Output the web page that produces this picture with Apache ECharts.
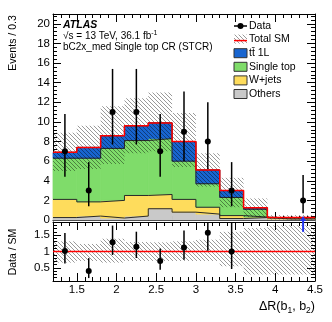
<!DOCTYPE html>
<html>
<head>
<meta charset="utf-8">
<script src="https://cdn.jsdelivr.net/npm/echarts@6/dist/echarts.min.js"></script>
<style>
  html, body { margin: 0; padding: 0; background: #fff; }
  #chart { width: 332px; height: 322px; }
</style>
</head>
<body>
<div id="chart"></div>
<script>
// bins of dR(b1,b2), width 0.3
const binEdges = [1.2, 1.5, 1.8, 2.1, 2.4, 2.7, 3.0, 3.3, 3.6, 3.9, 4.2, 4.5];
// stacked backgrounds, bottom to top
const others    = [0.25, 0.4, 0.2, 0.4, 1.15, 0.8, 0.6, 0.15, 0.25, 0.1, 0.1];
const wjets     = [1.85, 1.45, 1.8, 2.1, 1.45, 1.3, 0.7, 0.3, 0.05, 0.1, 0.1];
const singleTop = [4.2, 4.45, 5.3, 5.6, 5.7, 3.9, 2.4, 1.85, 0.8, 0.03, 0.05];
const ttbar1L   = [0.6, 1.1, 1.3, 1.5, 1.6, 2.0, 1.4, 0.7, 0.15, 0.02, 0.0];
// data and its error bar ends
const dataCounts = [7, 3, 11, 11, 7, 9, 8, 3, 0, 0, 2];
const dataUp     = [10.8, 5.9, 15.4, 15.4, 10.8, 13.1, 12.0, 5.9, 0, 0, 4.6];
const dataDown   = [4.4, 1.4, 7.7, 7.7, 4.4, 6.0, 5.2, 1.4, 0, 0, 0.7];
// total SM uncertainty band
const bandUp   = [8.9, 9.6, 11.6, 12.4, 13.0, 10.9, 6.8, 4.3, 2.2, 0.5, 0.5];
const bandDown = [5.0, 5.2, 5.7, 6.8, 7.0, 5.4, 3.4, 1.3, 0.3, 0.05, 0.05];
const ratioBandUp   = [1.31, 1.23, 1.39, 1.29, 1.28, 1.31, 1.36, 1.6, 1.72, 1.8, 1.8];
const ratioBandDown = [0.66, 0.71, 0.66, 0.71, 0.71, 0.71, 0.71, 0.55, 0.3, 0.3, 0.3];
// tick labels
const xMajorTicks = [1.5, 2, 2.5, 3, 3.5, 4, 4.5];
const ratioMajorTicks = [0.5, 1, 1.5];
const ratioMin = 0.1, ratioMax = 1.9;

const FONT = 'Liberation Sans';
const nBins = dataCounts.length;
const centers = dataCounts.map((_, i) => (binEdges[i] + binEdges[i + 1]) / 2);

// cumulative stack tops
const layers = [
  { name: 'Others', vals: others, color: '#c9c9c9' },
  { name: 'W+jets', vals: wjets, color: '#fedc5c' },
  { name: 'Single top', vals: singleTop, color: '#7fdc6a' },
  { name: 'ttbar 1L', vals: ttbar1L, color: '#1865d0' }
];
let prev = others.map(() => 0);
layers.forEach(l => {
  l.bottom = prev;
  l.top = prev.map((p, i) => p + l.vals[i]);
  prev = l.top;
});
const total = prev;

// step line points: value i at left edge i, plus last edge
function stepData(vals) {
  const pts = vals.map((v, i) => [binEdges[i], v]);
  pts.push([binEdges[nBins], vals[nBins - 1]]);
  return pts;
}

function makeHatch(color) {
  const s = 4;
  const c = document.createElement('canvas');
  c.width = s; c.height = s;
  const ctx = c.getContext('2d');
  ctx.strokeStyle = color;
  ctx.lineWidth = 0.8;
  ctx.beginPath();
  for (let k = -1; k <= 1; k++) {
    ctx.moveTo(k * s, 0);
    ctx.lineTo(k * s + s, s);
  }
  ctx.stroke();
  return c;
}
const hatch = { type: 'pattern', image: makeHatch('rgba(0,0,0,0.5)'), repeat: 'repeat' };

const bandData = bandUp.map((u, i) => [binEdges[i], binEdges[i + 1], bandDown[i], u]);
const ratioBandData = ratioBandUp.map((u, i) => [binEdges[i], binEdges[i + 1], ratioBandDown[i], u]);

const clampR = v => Math.max(ratioMin, Math.min(ratioMax, v));
const dataPts = [], ratioPts = [], arrows = [];
dataCounts.forEach((n, i) => {
  if (n <= 0) return;
  dataPts.push([centers[i], n, dataDown[i], dataUp[i]]);
  const r = n / total[i];
  if (r > ratioMax) arrows.push([centers[i]]);
  else if (r >= ratioMin) ratioPts.push([centers[i], r, clampR(dataDown[i] / total[i]), clampR(dataUp[i] / total[i])]);
});

function rectItem(fill, solid) {
  return function (params, api) {
    const p1 = api.coord([api.value(0), api.value(3)]);
    const p2 = api.coord([api.value(1), api.value(2)]);
    return {
      type: 'rect',
      shape: { x: p1[0], y: p1[1], width: p2[0] - p1[0], height: p2[1] - p1[1] },
      // solid fills get a same-colour edge so neighbouring bins don't show seams
      style: solid ? { fill, stroke: fill, lineWidth: 0.8 } : { fill }
    };
  };
}

function pointItem(params, api) {
  const x = api.value(0);
  const c = api.coord([x, api.value(1)]);
  const lo = api.coord([x, api.value(2)]);
  const hi = api.coord([x, api.value(3)]);
  return {
    type: 'group',
    children: [
      { type: 'line', shape: { x1: c[0], y1: hi[1], x2: c[0], y2: lo[1] }, style: { stroke: '#000', lineWidth: 1.5 } },
      { type: 'circle', shape: { cx: c[0], cy: c[1], r: 3 }, style: { fill: '#000' } }
    ]
  };
}

function arrowItem(params, api) {
  const x = api.value(0);
  const base = api.coord([x, 1.6]);
  const top = api.coord([x, ratioMax]);
  const tip = top[1] - 6;
  return {
    type: 'group',
    children: [
      { type: 'line', shape: { x1: base[0], y1: base[1], x2: base[0], y2: tip + 4 }, style: { stroke: '#2233ee', lineWidth: 2 } },
      { type: 'polygon', shape: { points: [[base[0] - 3, tip + 5], [base[0] + 3, tip + 5], [base[0], tip]] }, style: { fill: '#2233ee' } }
    ]
  };
}

const tickStyle = { color: '#000', width: 1 };
function xAxes(grid, labels) {
  const base = { type: 'value', gridIndex: grid, min: binEdges[0], max: binEdges[nBins], splitLine: { show: false } };
  return [
    { ...base, position: 'bottom', interval: 0.1,
      axisLine: { show: true, onZero: false, lineStyle: tickStyle },
      axisTick: { inside: true, length: 4, lineStyle: tickStyle }, axisLabel: { show: false } },
    { ...base, position: 'bottom', axisLine: { show: false, onZero: false },
      axisTick: { inside: true, length: 8, lineStyle: tickStyle, customValues: xMajorTicks },
      axisLabel: { show: labels, customValues: xMajorTicks, fontFamily: FONT, fontSize: 11.5, color: '#000', margin: 3 } },
    { ...base, position: 'top', interval: 0.1,
      axisLine: { show: true, onZero: false, lineStyle: tickStyle },
      axisTick: { inside: true, length: 4, lineStyle: tickStyle }, axisLabel: { show: false } },
    { ...base, position: 'top', axisLine: { show: false, onZero: false },
      axisTick: { inside: true, length: 8, lineStyle: tickStyle, customValues: xMajorTicks }, axisLabel: { show: false } }
  ];
}

function mainY(pos, labels) {
  return {
    type: 'value', gridIndex: 0, position: pos, min: 0, max: 21, interval: 2,
    axisLine: { show: true, onZero: false, lineStyle: tickStyle },
    axisTick: { inside: true, length: 8, lineStyle: tickStyle },
    minorTick: { show: true, splitNumber: 5, length: 4, lineStyle: tickStyle },
    axisLabel: { show: labels, showMaxLabel: false, fontFamily: FONT, fontSize: 11.5, color: '#000', margin: 3 },
    splitLine: { show: false }
  };
}

function ratioY(pos, labels) {
  const base = { type: 'value', gridIndex: 1, position: pos, min: ratioMin, max: ratioMax, splitLine: { show: false } };
  return [
    { ...base, interval: 0.1, axisLine: { show: true, onZero: false, lineStyle: tickStyle },
      axisTick: { inside: true, length: 4, lineStyle: tickStyle }, axisLabel: { show: false } },
    { ...base, axisLine: { show: false, onZero: false },
      axisTick: { inside: true, length: 8, lineStyle: tickStyle, customValues: ratioMajorTicks },
      axisLabel: { show: labels, customValues: ratioMajorTicks, fontFamily: FONT, fontSize: 11.5, color: '#000', margin: 3 } }
  ];
}

const stackSeries = [];
layers.forEach(l => {
  stackSeries.push({
    name: l.name, type: 'custom', xAxisIndex: 0, yAxisIndex: 0, z: 2,
    encode: { x: [0, 1], y: [2, 3] },
    data: l.vals.map((v, i) => [binEdges[i], binEdges[i + 1], l.bottom[i], l.top[i]]),
    renderItem: rectItem(l.color, true)
  });
});
layers.forEach(l => {
  stackSeries.push({
    name: l.name + ' outline', type: 'line', xAxisIndex: 0, yAxisIndex: 0, z: 2.5, step: 'end',
    data: stepData(l.top), symbol: 'none', lineStyle: { color: '#2a2a2a', width: 1 }
  });
});

// legend drawn as graphic
const legendY0 = 26, legendDy = 13.6, boxX = 234;
const legendItems = [
  { name: 'Data' }, { name: 'Total SM' },
  { name: 'tt\u0304 1L', color: '#1865d0' },
  { name: 'Single top', color: '#7fdc6a' },
  { name: 'W+jets', color: '#fedc5c' },
  { name: 'Others', color: '#c9c9c9' }
];
const legendGraphics = [];
legendItems.forEach((it, k) => {
  const y = legendY0 + k * legendDy;
  if (k === 0) {
    legendGraphics.push({ type: 'line', shape: { x1: boxX, y1: y, x2: boxX + 13, y2: y }, style: { stroke: '#000', lineWidth: 1.5 } });
    legendGraphics.push({ type: 'circle', shape: { cx: boxX + 6.5, cy: y, r: 3 }, style: { fill: '#000' } });
  } else if (k === 1) {
    legendGraphics.push({ type: 'rect', shape: { x: boxX, y: y - 5, width: 13, height: 9 }, style: { fill: hatch } });
    legendGraphics.push({ type: 'line', shape: { x1: boxX, y1: y + 1, x2: boxX + 13, y2: y + 1 }, style: { stroke: '#f00', lineWidth: 1.5 } });
  } else {
    legendGraphics.push({ type: 'rect', shape: { x: boxX, y: y - 4.5, width: 13, height: 9 }, style: { fill: it.color, stroke: '#333', lineWidth: 1 } });
  }
  legendGraphics.push({ type: 'text', x: 249, y, style: { text: it.name, font: '10.5px "' + FONT + '"', fill: '#000', verticalAlign: 'middle' } });
});

const chart = echarts.init(document.getElementById('chart'), null, { renderer: 'canvas' });
chart.setOption({
  animation: false,
  backgroundColor: '#fff',
  grid: [
    { left: 53, top: 14, width: 262, height: 206 },
    { left: 53, top: 222, width: 262, height: 59 }
  ],
  xAxis: [...xAxes(0, false), ...xAxes(1, true)],
  yAxis: [mainY('left', true), mainY('right', false), ...ratioY('left', true), ...ratioY('right', false)],
  series: [
    ...stackSeries,
    { name: 'band', type: 'custom', xAxisIndex: 0, yAxisIndex: 0, z: 3,
      encode: { x: [0, 1], y: [2, 3] }, data: bandData, renderItem: rectItem(hatch) },
    { name: 'Total SM', type: 'line', xAxisIndex: 0, yAxisIndex: 0, step: 'end', z: 4,
      data: stepData(total), symbol: 'none', lineStyle: { color: '#f00', width: 1.5 } },
    { name: 'Data', type: 'custom', xAxisIndex: 0, yAxisIndex: 0, z: 5,
      encode: { x: 0, y: [1, 2, 3] }, data: dataPts, renderItem: pointItem },
    { name: 'ratio band', type: 'custom', xAxisIndex: 4, yAxisIndex: 2, z: 3,
      encode: { x: [0, 1], y: [2, 3] }, data: ratioBandData, renderItem: rectItem(hatch) },
    { name: 'ratio one', type: 'line', xAxisIndex: 4, yAxisIndex: 2, z: 4, symbol: 'none',
      data: [[binEdges[0], 1], [binEdges[nBins], 1]], lineStyle: { color: '#f00', width: 1.5 } },
    { name: 'ratio', type: 'custom', xAxisIndex: 4, yAxisIndex: 2, z: 5,
      encode: { x: 0, y: [1, 2, 3] }, data: ratioPts, renderItem: pointItem },
    { name: 'arrows', type: 'custom', xAxisIndex: 4, yAxisIndex: 2, z: 6,
      encode: { x: 0 }, data: arrows, renderItem: arrowItem }
  ],
  graphic: [
    { type: 'text', x: 63, y: 25.5, style: { text: 'ATLAS', font: 'italic bold 10.5px "' + FONT + '"', fill: '#000', verticalAlign: 'middle' } },
    { type: 'text', x: 63, y: 36, style: {
        text: '{a|\u221As = 13 TeV, 36.1 fb}{s|-1}', verticalAlign: 'middle',
        rich: { a: { fontFamily: FONT, fontSize: 10, lineHeight: 12, fill: '#000' },
                s: { fontFamily: FONT, fontSize: 7, lineHeight: 7, verticalAlign: 'top', fill: '#000' } } } },
    { type: 'text', x: 63, y: 47.5, style: { text: 'bC2x_med Single top CR (STCR)', font: '10px "' + FONT + '"', fill: '#000', verticalAlign: 'middle' } },
    { type: 'text', x: 13, y: 43, rotation: Math.PI / 2, style: { text: 'Events / 0.3', font: '10.5px "' + FONT + '"', fill: '#000', align: 'center', verticalAlign: 'middle' } },
    { type: 'text', x: 13, y: 252, rotation: Math.PI / 2, style: { text: 'Data / SM', font: '10.5px "' + FONT + '"', fill: '#000', align: 'center', verticalAlign: 'middle' } },
    { type: 'text', x: 315, y: 307, style: {
        text: '{a|\u0394R(b}{s|1}{a|, b}{s|2}{a|)}', align: 'right', verticalAlign: 'middle',
        rich: { a: { fontFamily: FONT, fontSize: 12.5, lineHeight: 16, fill: '#000' },
                s: { fontFamily: FONT, fontSize: 8.5, lineHeight: 9, verticalAlign: 'bottom', fill: '#000' } } } },
    ...legendGraphics
  ]
});
</script>
</body>
</html>
